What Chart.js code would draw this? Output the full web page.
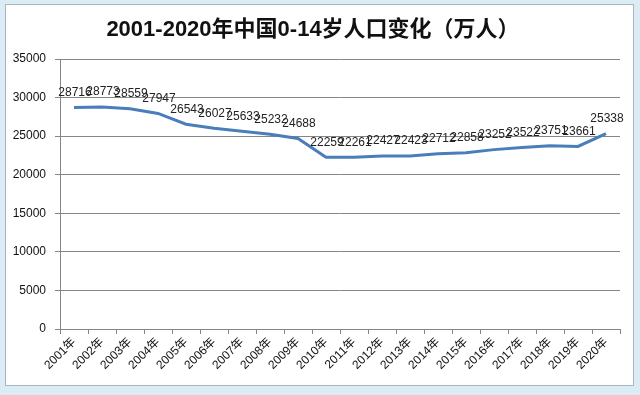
<!DOCTYPE html>
<html>
<head>
<meta charset="utf-8">
<script src="https://cdn.jsdelivr.net/npm/chart.js@4/dist/chart.umd.min.js"></script>
<style>
  html, body { margin: 0; padding: 0; }
  body { width: 640px; height: 395px; background: #dcecf4; position: relative; overflow: hidden; }
  #panel { position: absolute; left: 5px; top: 4px; width: 627px; height: 380px; background: #fff; border: 1px solid #a9b6bf; }
  #wrap { position: absolute; left: 0; top: 0; width: 640px; height: 395px; }
</style>
</head>
<body>
<div id="panel"></div>
<div id="wrap"><canvas id="chart" width="640" height="395"></canvas></div>
<script>
const years = ['2001年', '2002年', '2003年', '2004年', '2005年', '2006年', '2007年', '2008年', '2009年', '2010年',
  '2011年', '2012年', '2013年', '2014年', '2015年', '2016年', '2017年', '2018年', '2019年', '2020年'];
const population = [28716, 28773, 28559, 27947, 26543, 26027, 25633, 25232, 24688, 22259,
  22261, 22427, 22423, 22712, 22858, 23252, 23522, 23751, 23661, 25338];
const yTicks = [0, 5000, 10000, 15000, 20000, 25000, 30000, 35000];
const chartTitle = '2001-2020年中国0-14岁人口变化（万人）';

const baseFont = "'Liberation Sans', 'Noto Sans CJK SC', sans-serif";

// draws the title and the value above each point
const labelPlugin = {
  id: 'labelPlugin',
  afterDatasetsDraw(chart) {
    const ctx = chart.ctx;
    ctx.save();
    ctx.font = 'bold 22px ' + baseFont;
    ctx.fillStyle = '#111';
    ctx.textAlign = 'center';
    ctx.textBaseline = 'middle';
    ctx.fillText(chartTitle, 313, 30);

    ctx.font = '12px ' + baseFont;
    ctx.fillStyle = '#222';
    ctx.textBaseline = 'bottom';
    const meta = chart.getDatasetMeta(0);
    meta.data.forEach((pt, i) => {
      ctx.fillText(String(population[i]), pt.x + 1, pt.y - 9);
    });
    ctx.restore();
  }
};

const ctx = document.getElementById('chart').getContext('2d');
new Chart(ctx, {
  type: 'line',
  data: {
    labels: years,
    datasets: [{
      data: population,
      borderColor: '#4a7ebb',
      borderWidth: 3,
      pointRadius: 0,
      tension: 0,
      fill: false
    }]
  },
  options: {
    responsive: false,
    animation: false,
    devicePixelRatio: 1,
    layout: { padding: { top: 59, right: 20, left: 0, bottom: 0 } },
    plugins: {
      legend: { display: false },
      tooltip: { enabled: false }
    },
    scales: {
      x: {
        offset: true,
        afterFit: (scale) => { scale.height = 66; },
        grid: { offset: true, drawOnChartArea: false, drawTicks: true, tickLength: 5, color: '#868686' },
        border: { color: '#868686', width: 1 },
        ticks: {
          minRotation: 45,
          maxRotation: 45,
          autoSkip: false,
          padding: 1,
          color: '#111',
          font: { size: 12, family: baseFont }
        }
      },
      y: {
        min: 0,
        max: 35000,
        afterFit: (scale) => { scale.width = 60; },
        afterBuildTicks: (scale) => { scale.ticks = yTicks.map(v => ({ value: v })); },
        grid: { color: '#868686', tickLength: 5 },
        border: { color: '#868686', width: 1 },
        ticks: {
          padding: 9,
          color: '#111',
          font: { size: 12, family: baseFont },
          callback: (v) => String(v)
        }
      }
    }
  },
  plugins: [labelPlugin]
});
</script>
</body>
</html>
